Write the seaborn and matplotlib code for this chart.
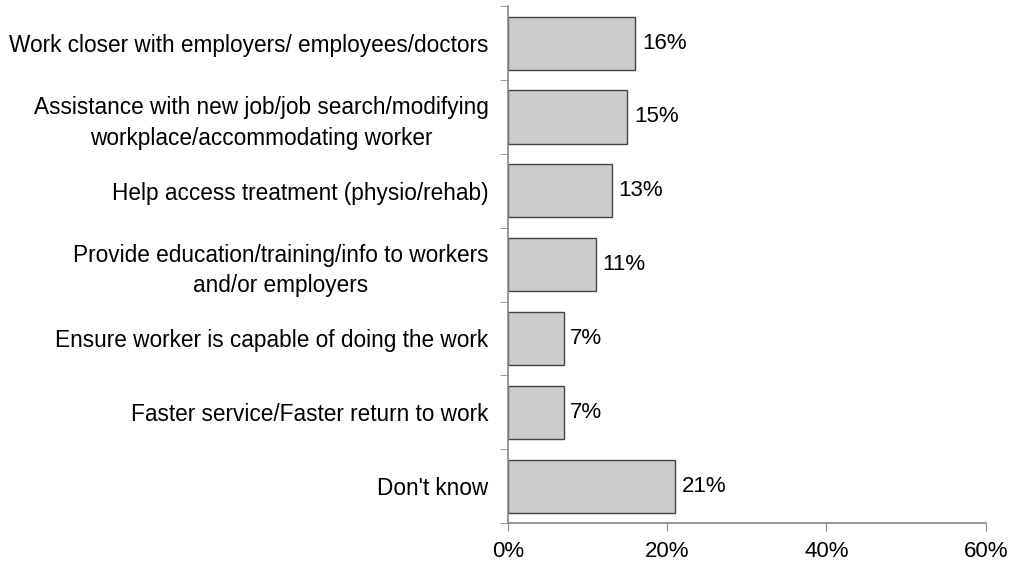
import seaborn as sns
import matplotlib.pyplot as plt
import pandas as pd
import numpy as np

categories = [
    "Work closer with employers/ employees/doctors",
    "Assistance with new job/job search/modifying\nworkplace/accommodating worker",
    "Help access treatment (physio/rehab)",
    "Provide education/training/info to workers\nand/or employers",
    "Ensure worker is capable of doing the work",
    "Faster service/Faster return to work",
    "Don't know",
]
values = [16, 15, 13, 11, 7, 7, 21]
x_ticks = [0, 20, 40, 60]

sns.set_style("white")
plt.rcParams['font.family'] = ['Liberation Sans', 'DejaVu Sans']
plt.rcParams['text.color'] = 'black'
plt.rcParams['xtick.labelcolor'] = 'black'
plt.rcParams['ytick.labelcolor'] = 'black'

df = pd.DataFrame({"category": categories, "value": values})

fig = plt.figure(figsize=(10.13, 5.65), dpi=100)
ax = fig.add_axes([0.5015, 0.0743, 0.4715, 0.9147])

sns.barplot(data=df, y="category", x="value", orient="h", color="#cccccc",
            edgecolor="#444444", linewidth=1, width=0.72, saturation=1, ax=ax)

for i, v in enumerate(values):
    ax.text(v + 0.8, i, f"{v}%", va="center", ha="left", fontsize=16)

ax.set_xlim(0, 60)
ax.set_ylim(len(categories) - 0.5, -0.5)
ax.set_xticks(x_ticks)
ax.set_xticklabels([f"{t}%" for t in x_ticks], fontsize=16)
ax.set_yticks(range(len(categories)))
ax.set_yticklabels(categories, fontsize=16.3, ha="right", multialignment="center",
                   linespacing=1.4)
ax.set_yticks(np.arange(-0.5, len(categories)), minor=True)
ax.tick_params(axis="y", which="major", length=0, pad=14)
ax.tick_params(axis="y", which="minor", length=6, color="#888888", direction="out", left=True)
ax.tick_params(axis="x", length=6, color="#888888", direction="out", bottom=True, pad=7)
ax.set_xlabel("")
ax.set_ylabel("")

for s in ["top", "right"]:
    ax.spines[s].set_visible(False)
for s in ["left", "bottom"]:
    ax.spines[s].set_color("#888888")
    ax.spines[s].set_linewidth(1.2)

fig.savefig("out.png", dpi=100)
